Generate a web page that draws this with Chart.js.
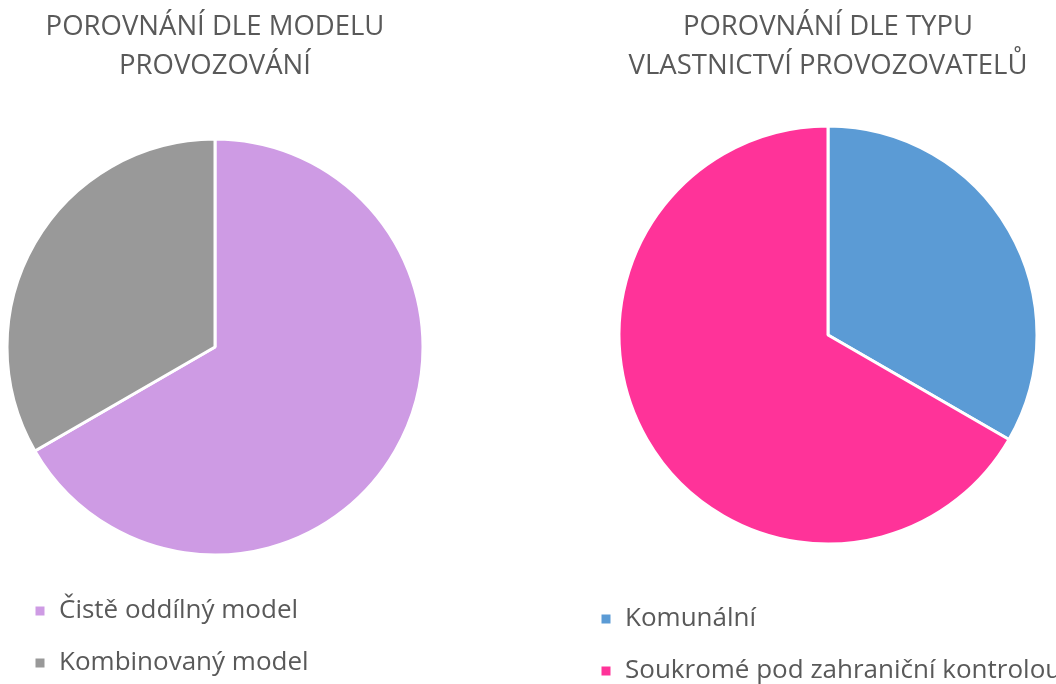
<!DOCTYPE html>
<html lang="cs">
<head>
<meta charset="utf-8">
<script src="https://cdn.jsdelivr.net/npm/chart.js@4.4.1/dist/chart.umd.min.js"></script>
<style>
    html, body { margin: 0; padding: 0; background: #fff; overflow: hidden; }
    body { width: 1056px; height: 684px; position: relative; }
    .box { position: absolute; top: 0; }
    #modelBox { left: 8px; width: 414px; height: 686px; }
    #ownerBox { left: 574px; width: 508px; height: 694px; }
</style>
</head>
<body>
<div class="box" id="modelBox"><canvas id="modelChart"></canvas></div>
<div class="box" id="ownerBox"><canvas id="ownerChart"></canvas></div>
<script>
// Porovnání dle modelu provozování
const modelLabels = ["Čistě oddílný model", "Kombinovaný model"];
const modelValues = [2, 1];
const modelColors = ["#CE9BE4", "#999999"];

// Porovnání dle typu vlastnictví provozovatelů
const ownerLabels = ["Komunální", "Soukromé pod zahraniční kontrolou"];
const ownerValues = [1, 2];
const ownerColors = ["#5B9BD5", "#FF3399"];

const textColor = "#595959";
const fontFamily = "'Open Sans', sans-serif";

function makePie(canvasId, title, labels, values, colors, radius, titleGap) {
    const ctx = document.getElementById(canvasId).getContext("2d");
    return new Chart(ctx, {
        type: "pie",
        data: {
            labels: labels,
            datasets: [
                {
                    data: values,
                    backgroundColor: colors,
                    borderColor: "#ffffff",
                    borderWidth: 3,
                    radius: radius,
                },
            ],
        },
        options: {
            responsive: true,
            maintainAspectRatio: false,
            animation: false,
            layout: { padding: 0 },
            plugins: {
                title: {
                    display: true,
                    text: title,
                    color: textColor,
                    font: { family: fontFamily, size: 27.5, weight: "normal", lineHeight: 1.418 },
                    padding: { top: 8, bottom: titleGap },
                },
                legend: {
                    position: "bottom",
                    align: "start",
                    labels: {
                        color: textColor,
                        font: { family: fontFamily, size: 26 },
                        boxWidth: 12,
                        boxHeight: 12,
                        padding: 26,
                    },
                },
                tooltip: { enabled: false },
            },
        },
    });
}

makePie("modelChart", ["POROVNÁNÍ DLE MODELU", "PROVOZOVÁNÍ"],
    modelLabels, modelValues, modelColors, 208, 36);
makePie("ownerChart", ["POROVNÁNÍ DLE TYPU", "VLASTNICTVÍ PROVOZOVATELŮ"],
    ownerLabels, ownerValues, ownerColors, 209, 4);
</script>
</body>
</html>
